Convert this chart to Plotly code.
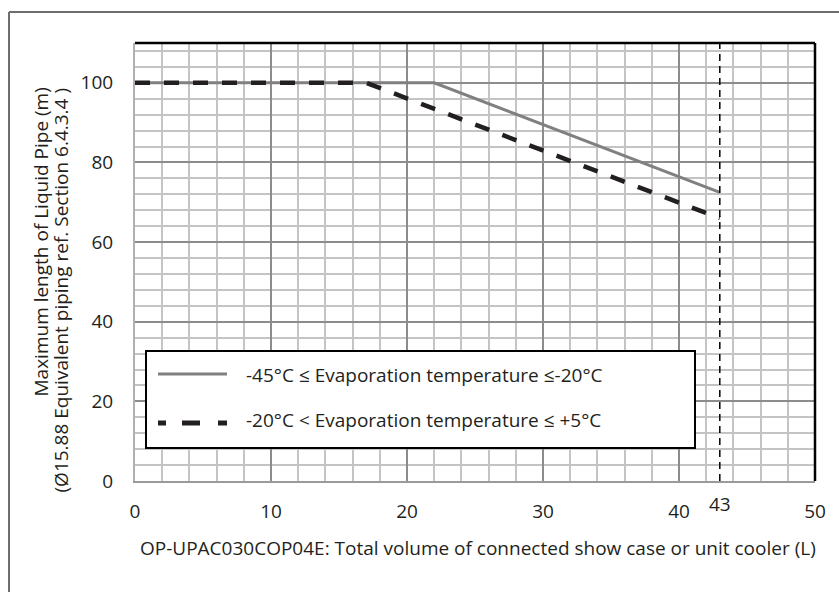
"""Liquid pipe length vs connected volume chart recreated with Plotly."""

import plotly.graph_objects as go

# Series data
volume_low = [0, 22, 43]          # -45C <= Te <= -20C
length_low = [100, 100, 72.5]
volume_high = [0, 17, 43]         # -20C < Te <= +5C
length_high = [100, 100, 66]
limit_volume = 43

x_ticks = [0, 10, 20, 30, 40, 50]
y_ticks = [0, 20, 40, 60, 80, 100]

label_low = "-45°C ≤ Evaporation temperature ≤-20°C"
label_high = "-20°C < Evaporation temperature ≤ +5°C"
x_title = "OP-UPAC030COP04E: Total volume of connected show case or unit cooler (L)"
y_title_1 = "Maximum length of Liquid Pipe (m)"
y_title_2 = "(Ø15.88 Equivalent piping ref. Section 6.4.3.4 )"

FONT = "Open Sans"
TEXT = "#231f20"
FS = 19

# window pixels (body margin is removed after plotting)
W, H = 839, 592
L, R, T, B = 135, 815, 43, 481


def px_x(p):
    return (p - L) / (R - L)


def px_y(p):
    return (B - p) / (B - T)


fig = go.Figure()

fig.add_trace(go.Scatter(
    x=volume_low, y=length_low, mode='lines',
    line=dict(color='#808080', width=3),
    showlegend=False, hoverinfo='skip',
))
fig.add_trace(go.Scatter(
    x=volume_high, y=length_high, mode='lines',
    line=dict(color=TEXT, width=4.5, dash='15px,14px'),
    showlegend=False, hoverinfo='skip',
))

# dashed limit line at 43 L
fig.add_shape(type='line', xref='x', yref='y',
              x0=limit_volume, x1=limit_volume, y0=0, y1=110,
              line=dict(color='black', width=1.5, dash='7px,5px'))

# black top / right border of plot area
fig.add_shape(type='line', xref='paper', yref='paper', x0=0, x1=1, y0=1, y1=1,
              line=dict(color='black', width=2.5))
fig.add_shape(type='line', xref='paper', yref='paper', x0=1, x1=1, y0=0, y1=1,
              line=dict(color='black', width=2.5))

# outer frame (top and left edges visible)
fig.add_shape(type='line', xref='paper', yref='paper',
              x0=px_x(9), x1=px_x(900), y0=px_y(12), y1=px_y(12),
              line=dict(color='#6d6d6d', width=2))
fig.add_shape(type='line', xref='paper', yref='paper',
              x0=px_x(9), x1=px_x(9), y0=px_y(12), y1=px_y(700),
              line=dict(color='#6d6d6d', width=2))

# hand drawn legend box
fig.add_shape(type='rect', xref='paper', yref='paper',
              x0=px_x(146), x1=px_x(695), y0=px_y(448), y1=px_y(351),
              line=dict(color='black', width=2), fillcolor='white', layer='above')
fig.add_shape(type='line', xref='paper', yref='paper',
              x0=px_x(158), x1=px_x(227), y0=px_y(374), y1=px_y(374),
              line=dict(color='#808080', width=3), layer='above')
for a, b in [(158, 166), (182, 200), (218, 227)]:
    fig.add_shape(type='line', xref='paper', yref='paper',
                  x0=px_x(a), x1=px_x(b), y0=px_y(423), y1=px_y(423),
                  line=dict(color=TEXT, width=5), layer='above')

annotations = [
    dict(text=label_low, x=px_x(244), y=px_y(375), xanchor='left', yanchor='middle'),
    dict(text=label_high, x=px_x(244), y=px_y(420), xanchor='left', yanchor='middle'),
    dict(text=x_title, x=px_x(478), y=px_y(548), xanchor='center', yanchor='middle'),
    dict(text=y_title_1, x=px_x(40), y=px_y(86), xanchor='center', yanchor='top',
         textangle=-90),
    dict(text=y_title_2, x=px_x(60), y=px_y(86), xanchor='center', yanchor='top',
         textangle=-90),
    dict(text=str(limit_volume), x=limit_volume, xref='x', y=px_y(489),
         xanchor='center', yanchor='top'),
]
for a in annotations:
    a.setdefault('xref', 'paper')
    a['yref'] = 'paper'
    a['showarrow'] = False
    a['font'] = dict(family=FONT, size=FS, color=TEXT)
    fig.add_annotation(**a)

fig.update_xaxes(
    range=[0, 50], tickvals=x_ticks, ticks='', ticklabelstandoff=12,
    showgrid=True, gridcolor='#8c8c8c', gridwidth=2,
    minor=dict(dtick=2, showgrid=True, gridcolor='#c4c4c4', gridwidth=2),
    showline=True, linecolor='#9a9a9a', linewidth=2,
    zeroline=False, tickfont=dict(family=FONT, size=FS, color=TEXT),
)
fig.update_yaxes(
    range=[0, 110], tickvals=y_ticks, ticks='', ticklabelstandoff=16,
    showgrid=True, gridcolor='#8c8c8c', gridwidth=2,
    minor=dict(dtick=4, showgrid=True, gridcolor='#c4c4c4', gridwidth=2),
    showline=True, linecolor='#b0b0b0', linewidth=2,
    zeroline=False, tickfont=dict(family=FONT, size=FS, color=TEXT),
)

fig.update_layout(
    width=W, height=H,
    margin=dict(l=L, r=W - R, t=T, b=H - B),
    paper_bgcolor='white', plot_bgcolor='white',
    showlegend=False,
)

fig.write_html("out.html",
               config={'displayModeBar': False},
               post_script="document.body.style.margin='0';"
                           "document.body.style.overflow='hidden';")
